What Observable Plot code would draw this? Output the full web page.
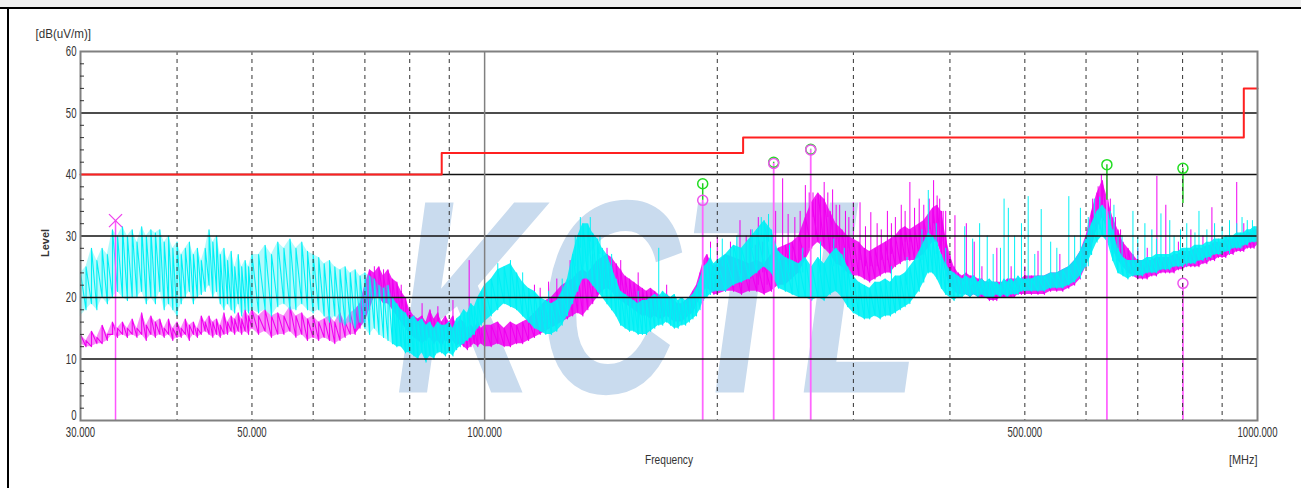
<!DOCTYPE html>
<html>
<head>
<meta charset="utf-8">
<script src="https://cdn.jsdelivr.net/npm/d3@7"></script>
<script src="https://cdn.jsdelivr.net/npm/@observablehq/plot@0.6"></script>
<style>
  html, body { margin: 0; padding: 0; background: #fff; }
  #page { position: relative; width: 1301px; height: 488px; overflow: hidden; background: #fff; }
  #chart { position: absolute; left: 0; top: 0; }
  #topbar { position: absolute; left: 0; top: 0; width: 1301px; height: 7px; background: #f0f0f0; }
  #topline { position: absolute; left: 0; top: 7px; width: 1301px; height: 2px; background: #000; }
  #leftline { position: absolute; left: 7px; top: 7px; width: 2px; height: 481px; background: #000; }
</style>
</head>
<body>
<div id="page">
  <div id="chart"></div>
  <div id="topbar"></div>
  <div id="topline"></div>
  <div id="leftline"></div>
</div>
<script>
// Sweep frequencies (MHz) shared by both detector traces
const freqMHz = [
  30,30.5,31,31.5,32,32.5,33,33.5,34,34.5,35,35.5,36,36.5,37,37.5,38,38.5,39,39.5,40,40.5,41,41.5,42,42.5,43,43.5,44,44.5,45,45.5,46,46.5,47,47.5,48,48.5,49,49.5,50,
  51,52,53,54,55,56,57,58,59,60,61,62,63,64,65,66,67,68,69,70,71,72,73,74,75,76,77,78,79,80,81,82,83,84,85,86,87,88,89,90,91,92,93,94,95,96,97,98,99,100,
  102,104,106,108,110,112,114,116,118,120,122,124,126,128,130,132,134,136,138,140,142,144,146,148,150,152,154,156,158,160,162,164,166,168,170,172,174,176,178,180,182,184,186,188,190,192,194,196,198,200,
  205,210,215,220,225,230,235,240,245,250,255,260,265,270,275,280,285,290,295,300,305,310,315,320,325,330,335,340,345,350,355,360,365,370,375,380,385,390,395,400,405,410,415,420,425,430,435,440,445,450,455,460,465,470,475,480,485,490,495,500,
  510,520,530,540,550,560,570,580,590,600,610,620,630,640,650,660,670,680,690,700,710,720,730,740,750,760,770,780,790,800,810,820,830,840,850,860,870,880,890,900,910,920,930,940,950,960,970,980,990,1000
];

// Cyan trace: upper and lower edge of the noise band, dB(uV/m)
const cyanHigh = [
  24,25,28,26,28,27,31,30,31.5,30,31,29,31.5,30,31,30.5,31,29,30,28,29,27,28,29,27,28,26,28,31,29,30,27,28,26,27.5,25,27,25,26,25,27,
  27,28.5,27,29,28,29.5,28,29,27.5,27,26.5,25.5,26,25,24.5,25,24,24.5,23.5,24,23.5,23,22,21.5,22,20,19,18,17.5,16.5,17,16,16.5,15.5,16,15,16,15.5,15.5,16,15,16.5,17,18,17.5,19,18.5,20,21,22,
  23,24.5,25,25.5,24,22.5,21.5,21,20,19.5,19,19.5,21,23,27,30,32,32,30.5,29.5,28,27,25,23,21,20.5,20,19.5,19,19.5,19.5,20,20.5,20,21,20.5,20,20.5,19.5,20,19.5,20,20.5,21.5,23,25,25.5,26.5,25.5,26,
  27,28.5,28,29.5,31,32.5,31,27.5,26.5,26,25.5,26.5,25,26.5,25.5,27,28,27,25,23.5,22.5,22,21.5,22.5,22.5,23,22.5,23.5,23.5,24,25,26,27.5,29,30.5,30,29,27,25.5,24.5,24,23.5,23,23.5,23,23.5,22.5,23,22.5,23,22.5,22.5,22,23,22.5,23,22.5,23.5,23,23,
  23,23.5,23.5,24,24,24.5,25,26,27.5,29.5,32,34,35,34,31,28,26.5,26,26,26,26,26.5,26.5,27,27,27,27,27.5,27.5,28,28,28,28.5,28.5,28.5,29,29,29.5,29.5,29.5,30,30,30,30.5,30.5,30.5,31,31,31.5,31.5
];
const cyanLow = [
  17,18,19,18,20,19,20,21,20,19.5,20,20,21,19,20,19,21,18,19,18,17,19,20,21,19,20,20.5,21,22,20,21,19,18,19,18,17.5,19,17,18,17.5,18,
  17.5,18,17,18.5,19,18,18,19,18,17.5,18,17,16,17,16,15.5,16,15,16,15,14,15,14,13.5,13,12.5,12,12,11,11,10.5,10,11,9.5,10.5,10,11,11,10.5,11,10.5,11.5,12,12.5,13,13.5,14,15,15.5,16,
  17,18,19,18.5,18,17,16,15,14.5,14,14,14.5,15.5,17,19,21,23,23,22,21,20,19,18,17,15.5,15,14.5,14.5,14,14,14,14.5,15,15.5,15.5,16,15.5,15,15,15.5,15.5,16,16.5,17,18,19.5,20,20.5,21,21,
  21,22,22.5,23,24,25,24,21.5,21,20.5,20,20,19.5,20,19.5,20.5,21,20,18.5,17.5,17,16.5,16.5,17,16.5,17,17,17.5,18,18.5,19,20,21,22.5,24,24,23,21.5,20.5,20,19.5,20,20,20.5,20,20.5,20,20.5,20,20,20,20.5,20,20.5,20,20.5,20.5,20.5,21,21,
  21,21,21,21.5,21.5,21.5,22,22.5,23.5,25,27,29,30,29,26,24,23.5,23,23.5,23.5,23.5,24,24,24,24.5,24.5,24.5,25,25,25,25.5,25.5,25.5,26,26,26.5,26.5,27,27,27,27.5,27.5,28,28,28,28.5,28.5,29,29,29
];

// Magenta trace: upper and lower edge of the noise band, dB(uV/m)
const magentaHigh = [
  14,13,14.5,13.5,15.5,14,16,15,16,15,16.5,15,17.5,15.5,17,16,16.5,15,16.5,15,16,15,16.5,15.5,16,15,17,16,17,16,16.5,15.5,17.5,16,17,16.5,17.5,16.5,18,17,18,
  17,18,17,17.5,17,18.5,17,17.5,16.5,17,16,16.5,17,16,17.5,16,17.5,18,19,22,24.5,24,25,23.5,24.5,23,22.5,21,20,18,17,16.5,17,16,18,16.5,17.5,16,17,16,17,15.5,16.5,16,15,15.5,15,16,15,15.5,
  15.5,16,15,16,15.5,16,16.5,17.5,18.5,19.5,20,21,22,22.5,23,24,24.5,24,25,26,26.5,27,26.5,25.5,24.5,23.5,23,22.5,22,21.5,21,21.5,21,20.5,20,20.5,20,19.5,19,19,19.5,20,21,22,24,26,27,26,25,25.5,
  27,26.5,26,25.5,26,25.5,27,28,28.5,29,30,33,35.5,37,36,34,32,31,30,29.5,29,28,27.5,28,28.5,29,29.5,30,31,31.5,31,31.5,32,32.5,33.5,34.5,35,34,30,27,25,24,23.5,24,23.5,23.5,23,23,22.5,22.5,22.5,22.5,22.5,22.5,23,23,23,23,23,23.5,
  23.5,23.5,23.5,24,24,24.5,25,26,27.5,30,34,37,39,36,33,31,29,28,27,26,26,26,26,26.5,26.5,26.5,26.5,27,27,27.5,27.5,27.5,28,28,28,28.5,28.5,29,29,29,29.5,29.5,29.5,30,30,30,30.5,30.5,31,31
];
const magentaLow = [
  12.5,12,12,12.5,12.5,13,14,13.5,14,13.5,14,13.5,14,13,14,13.5,14,13.5,14,13,13.5,13.5,14,13,14,13.5,14,14.5,14,13.5,14,13.5,14,14,14.5,14,14.5,14,14.5,14,15,
  14,14.5,13.5,14,14,14.5,13.5,14,13,13.5,13,13.5,13,12.5,13,13.5,14,14,15,16,18,20,20,19,19,18,17,16,15,14,13.5,13,12.5,13,13.5,12.5,13,12,13,12.5,13,12,12.5,12,11.5,12,12.5,12,12.5,12,
  12,12.5,12,12,12.5,12.5,13,13.5,14,14.5,15,15.5,16,16.5,17,17.5,17,18,19,20,21,21.5,21,20,19.5,19,18.5,18,17.5,17,17,16.5,17,16.5,16.5,17,16.5,16,16,16,16.5,17,17.5,18.5,20,21,21.5,21,20.5,20.5,
  21,21,20.5,21,21,20.5,21,22,22,23,24,26,28,29,28,27,25.5,25,24,23.5,23.5,23,22.5,23,23.5,24,24,25,25.5,26,26,26,26.5,27,28,29,29,27,24,22,21,20.5,20.5,20.5,20,20.5,20,20,20,19.5,19.5,19.5,20,20,20,20,20,20.5,20.5,20.5,
  20.5,20.5,20.5,21,21,21,21.5,22,23,25,28,31,33,31,28,26,25,24,23.5,23,23,23,23.5,23.5,24,24,24,24,24.5,24.5,25,25,25,25,25.5,25.5,26,26,26.5,26.5,26.5,27,27,27.5,27.5,27.5,28,28,28,28.5
];

// Narrow-band spikes rising out of each band: frequency (MHz), foot and tip (dB(uV/m))
const cyanSpikeFreq = [
  104,108,112,121,126,131,133,137,141,146,158,168,196,203,212,222,228,233,248,258,272,283,292,336,352,368,375,384,395,
  418,428,437,447,455,465,470,476,485,495,505,515,525,540,550,570,580,590,604,615,625,645,652,660,668,690,700,715,730,
  740,750,770,780,795,810,830,840,860,880,900,920,940,955,970,985
];
const cyanSpikeBase = [
  22,23,21,15,20,25,28,29,27,23,15,16,24,25,26,28,30,29,24,24,24,25,24,21,22,26,25,27,24,
  22,22,22,22,22,22,22,22,22,22,22,22,22,22,23,22,25,23,25,30,31,30,27,26,24,25,24,25,24,
  26,25,25,26,26,25,27,26,26,27,28,27,29,28,29,29
];
const cyanSpikeTop = [
  25.5,26,24,21,23,30,33,33,30,27,21,28,28,29.5,30,31,33,33.5,28.5,28,29,29.5,28,25,26.5,31,37.4,32,28,
  31.5,29.5,32,30,27,28,36,34.5,30,32,36.4,27,34.3,29,28,36.4,30,34.5,33,36,36.3,34,35,30,30,34,30,32,31,
  29.5,33.6,32.5,30,31,32,30.5,34,31,32,31.5,32.5,32,33,32.5,32.5
];
const magentaSpikeFreq = [
  72,74,78,83,87,91,95.5,116,118,121,124,129,132,138,144,150,158,172,196,200,208,214,218,221,224,226,229,232,236,238,
  243,247,252,256,260,263,266,268,272,275,278,282,285,288,293,296,300,306,311,316,322,326,332,336,340,346,350,355,360,
  365,370,376,381,385,388,392,395,406,420,430,440,460,480,500,520,555,612,622,628,645,655,665,700,720,741,761,790,820,
  850,873,940,960
];
const magentaSpikeBase = [
  22,22,19,15,15,15,15,16,17,17,18,19,21,23,25,22,20,18,24,24,24,24,23,23,24,22,24,22,25,23,
  24,24,25,26,27,28,33,30,30,30,33,28,30,27,26,28,27,26,25,25,25,26,26,27,26,26,29,29,27,
  30,28,31,32,32,28,29,25,23,22,21,21,21,21,21,21,22,30,33,35,32,29,27,24,24,25,25,25,25,
  26,27,28,28
];
const magentaSpikeTop = [
  25,24.5,22,19,18.5,19.5,26,22,21.5,22.5,23,26,26,27,28,26,24,22,29,30,29,32.5,30,31,28.5,33,29,31.5,30,34,
  39.3,33.5,33,34,38.2,37,37,36,36.5,38.7,37,37.5,35,35,34,33,35.4,35.4,31.5,33.8,32,31,34,32,33,35,34,38.7,34.5,
  36,35,36,39,36.5,36,34,34,33.3,32,29,25,28,25,25,27.5,27,36,38,40,36,33,31,28,28,39.7,35,29,31,
  30,34.6,38.7,32
];

// Class limit line
const limitFreq  = [30, 88, 216, 960, 1000];
const limitLevel = [40, 43.5, 46, 54, 54];

// Final measurement markers
const markerFreq          = [191.5, 236.6, 264.2, 638.5, 800.8];
const greenMarkerLevel    = [38.5, 42.0, 44.1, 41.6, 41.0];
const greenLineBase       = [35.8, 41.8, 44.0, 35.8, 35.3];
const magentaMarkerLevel  = [35.8, 41.8, 44.0, null, 22.3];
const magentaLineTop      = [35.8, 41.8, 44.0, 40.0, 22.3];
const peakFreq  = 33.3;
const peakLevel = 32.5;

// Axes and grid
const xTicks      = [30, 50, 100, 500, 1000];
const yTicks      = [10, 20, 30, 40, 50, 60];
const yZeroTick   = [0];
const yMinorTicks = [2,4,6,8,12,14,16,18,22,24,26,28,32,34,36,38,42,44,46,48,52,54,56,58];
const gridLevels  = [10, 20, 30, 40, 50];
const dashedFreqs = [40, 50, 60, 70, 80, 90, 200, 300, 400, 500, 600, 700, 800, 900];
const solidFreqs  = [100];

// Below these frequencies the traces are sparse zigzags rather than dense bands
const cyanSparseBelow = 76;
const magentaSparseBelow = 68;

const font = '"Liberation Sans", Arial, sans-serif';

const bandRows = (lo, hi) => freqMHz.map((f, i) => ({f, lo: lo[i], hi: hi[i]}));
const zigzag = (lo, hi) => freqMHz.flatMap((f, i) => [{f, v: lo[i]}, {f, v: hi[i]}]);
const spikeRows = (fs, base, top) => fs.map((f, i) => ({f, base: base[i], top: top[i]}));

const cyanBand = bandRows(cyanLow, cyanHigh);
const magentaBand = bandRows(magentaLow, magentaHigh);
const cyanZig = zigzag(cyanLow, cyanHigh);
const magentaZig = zigzag(magentaLow, magentaHigh);
const cyanSpikes = spikeRows(cyanSpikeFreq, cyanSpikeBase, cyanSpikeTop);
const magentaSpikes = spikeRows(magentaSpikeFreq, magentaSpikeBase, magentaSpikeTop);
const limit = limitFreq.map((f, i) => ({f, v: limitLevel[i]}));
const markers = markerFreq.map((f, i) => ({
  f, green: greenMarkerLevel[i], greenBase: greenLineBase[i],
  magenta: magentaMarkerLevel[i], magentaTop: magentaLineTop[i]
}));

const CYAN = "#00f0f5", MAGENTA = "#f000f0";

const traceMarks = (band, zig, spikes, color, sparseBelow, sparseOpacity, denseOpacity) => [
  Plot.areaY(band.filter(d => d.f <= sparseBelow), {x: "f", y1: "lo", y2: "hi", fill: color, fillOpacity: sparseOpacity}),
  Plot.areaY(band.filter(d => d.f >= sparseBelow), {x: "f", y1: "lo", y2: "hi", fill: color, fillOpacity: denseOpacity}),
  Plot.line(zig, {x: "f", y: "v", stroke: color, strokeWidth: 1.1}),
  Plot.ruleX(spikes, {x: "f", y1: "base", y2: "top", stroke: color, strokeWidth: 1})
];

const chart = Plot.plot({
  width: 1301,
  height: 488,
  marginTop: 51,
  marginRight: 44,
  marginBottom: 68,
  marginLeft: 80,
  style: {fontFamily: font, fontSize: "13px", color: "#333", background: "transparent", overflow: "visible"},
  x: {type: "log", domain: [30, 1000], label: null},
  y: {domain: [0, 60], label: null},
  marks: [
    // watermark
    Plot.text(["KCTL"], {
      frameAnchor: "bottom-left", dx: 315, dy: -28, textAnchor: "start", lineAnchor: "bottom",
      fontSize: 276, fontWeight: "bold", fontStyle: "italic", fontFamily: "Liberation Sans",
      fill: "#c9dbee"
    }),
    // detector traces
    ...traceMarks(magentaBand, magentaZig, magentaSpikes, MAGENTA, magentaSparseBelow, 0.45, 0.85),
    ...traceMarks(cyanBand, cyanZig, cyanSpikes, CYAN, cyanSparseBelow, 0.3, 0.9),
    // marker stems
    Plot.ruleX(markers, {x: "f", y1: 0, y2: "magentaTop", stroke: "#ff66ff", strokeWidth: 1.8}),
    Plot.ruleX([peakFreq], {y1: 0, y2: peakLevel, stroke: "#ff55ff", strokeWidth: 1.5}),
    Plot.ruleX(markers, {x: "f", y1: "greenBase", y2: "green", stroke: "#22cc22", strokeWidth: 1.5}),
    // grid
    Plot.ruleY(gridLevels, {stroke: "#111", strokeWidth: 1.5}),
    Plot.ruleX(dashedFreqs, {stroke: "#333", strokeWidth: 1, strokeDasharray: "4,4"}),
    Plot.ruleX(solidFreqs, {stroke: "#808080", strokeWidth: 1.5}),
    // limit
    Plot.line(limit, {x: "f", y: "v", curve: "step-after", stroke: "#ff2020", strokeWidth: 2}),
    Plot.frame({stroke: "#808080", strokeWidth: 2}),
    // marker symbols
    Plot.dot(markers, {x: "f", y: "green", r: 5, stroke: "#22dd22", strokeWidth: 1.5, fill: "none"}),
    Plot.dot(markers.filter(d => d.magenta != null), {x: "f", y: "magenta", r: 5, stroke: "#ee55ee", strokeWidth: 1.5, fill: "none"}),
    Plot.dot([peakFreq], {x: d => d, y: () => peakLevel, symbol: "times", r: 6, stroke: "#ee44ee", strokeWidth: 1.3}),
    // axes
    Plot.axisX(xTicks, {tickFormat: d3.format(".3f"), tickSize: 0, tickPadding: 6, fontSize: 14.5, label: null}),
    Plot.axisY(yTicks, {tickSize: 0, tickPadding: 4, fontSize: 14.5, label: null}),
    Plot.axisY(yZeroTick, {tickSize: 0, tickPadding: 4, fontSize: 14.5, dy: -5, label: null}),
    Plot.axisY(yMinorTicks, {tickSize: -4, tickFormat: () => "", label: null, stroke: "#333"}),
    // titles
    Plot.text(["Level"], {frameAnchor: "left", dx: -35, dy: 7, rotate: -90, textAnchor: "middle", fontWeight: "bold", fontSize: 11}),
    Plot.text(["[dB(uV/m)]"], {frameAnchor: "top-left", dx: -45, dy: -18, textAnchor: "start", lineAnchor: "middle", fontSize: 12.5}),
    Plot.text(["Frequency"], {frameAnchor: "bottom", dy: 43, lineAnchor: "bottom"}),
    Plot.text(["[MHz]"], {frameAnchor: "bottom-right", dy: 43, lineAnchor: "bottom"})
  ]
});

document.getElementById("chart").appendChild(chart);

// Narrow the lettering: fixed horizontal compression per kind of text
const squeeze = {"Frequency": 0.78, "[MHz]": 0.84, "[dB(uV/m)]": 0.93, "Level": 1};
d3.select(chart).selectAll("text").each(function() {
  const s = this.textContent;
  if (!s) return;
  if (s === "KCTL") {
    this.setAttribute("textLength", 525);
  } else {
    const r = s in squeeze ? squeeze[s] : 0.66;
    if (r === 1) return;
    this.setAttribute("textLength", this.getComputedTextLength() * r);
  }
  this.setAttribute("lengthAdjust", "spacingAndGlyphs");
});
</script>
</body>
</html>
